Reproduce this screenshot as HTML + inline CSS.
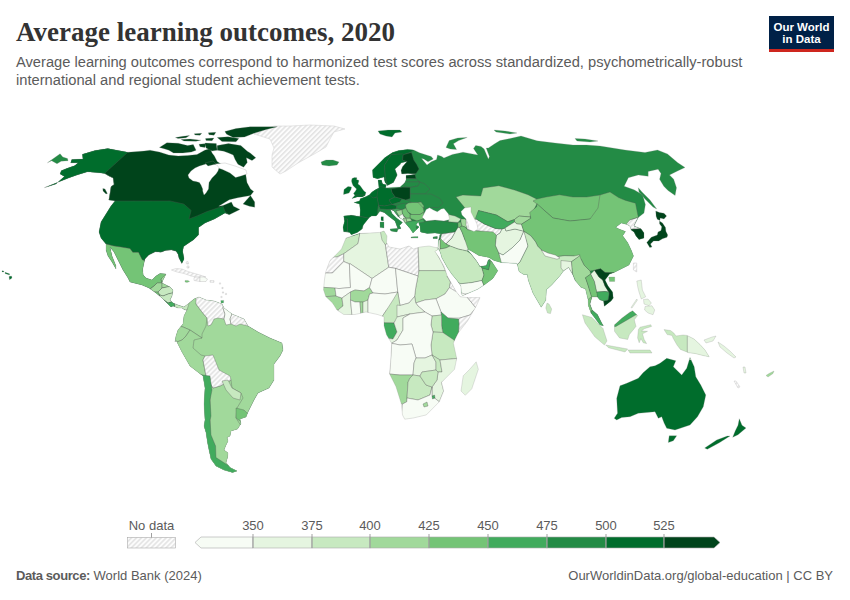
<!DOCTYPE html>
<html><head><meta charset="utf-8">
<style>
html,body{margin:0;padding:0;background:#fff;}
body{width:850px;height:600px;position:relative;overflow:hidden;font-family:"Liberation Sans",sans-serif;}
.t{position:absolute;white-space:nowrap;}
#title{left:16px;top:16px;font-family:"Liberation Serif",serif;font-weight:bold;font-size:27px;color:#333;line-height:32px;}
#sub{left:16px;top:52.5px;font-size:14.7px;color:#5b5b5b;line-height:18.3px;}
#logo{position:absolute;left:769px;top:16px;width:65px;height:33px;background:#002147;border-bottom:3px solid #ce261e;}
#logo div{position:absolute;left:0;width:65px;text-align:center;color:#fff;font-weight:bold;font-size:11.5px;line-height:12px;}
#map{position:absolute;left:0;top:0;}
.lg{position:absolute;font-size:13px;color:#5b5b5b;}
#foot1{left:16px;top:568px;font-size:13px;color:#5b5b5b;}
#foot2{right:17px;top:568px;font-size:13px;color:#5b5b5b;}
</style></head><body>
<div id="title" class="t">Average learning outcomes, 2020</div>
<div id="sub" class="t">Average learning outcomes correspond to harmonized test scores across standardized, psychometrically-robust<br>international and regional student achievement tests.</div>
<div id="logo"><div style="top:5px">Our World</div><div style="top:17px">in Data</div></div>
<svg id="map" width="850" height="600" viewBox="0 0 850 600">
<defs><pattern id="hatch" width="3.5" height="3.5" patternUnits="userSpaceOnUse" patternTransform="rotate(45)"><rect width="3.5" height="3.5" fill="#fcfcfc"/><rect width="1.5" height="3.5" fill="#e2e2e2"/></pattern><clipPath id="land"><path d="M44.2,187.7 L55.9,184 L64.4,176.5 L60.1,173.9 L61.2,170.7 L66.5,168.6 L75,165.4 L78.1,162.8 L70.7,162.8 L71.8,159.6 L82.9,159 L82.4,154.3 L95,150.6 L107.8,148.5 L118.4,150.6 L127.9,152.2 L144,151 L150,150.2 L159.4,152.1 L168.8,155 L178.2,155.9 L187.6,155.4 L197,154.5 L204.6,150.2 L210.2,148.4 L212.1,153 L214.4,155.9 L217.2,161.5 L224,166 L235,170 L245.5,172.7 L247,182.6 L250.5,189 L253.7,191.4 L250.5,195.6 L237.8,197.7 L229.3,199.8 L218.7,206.2 L223,205.5 L231.4,202 L233.5,206.2 L240,209.4 L229.3,214.7 L225,213 L214.5,218.9 L205,223.1 L198.6,227.4 L198.6,234.8 L193.3,240 L190.2,242 L183.6,246.6 L182.7,251.3 L184.1,258.9 L181.8,263.6 L178.9,257.9 L178,254.2 L176.1,251.3 L171.4,249.9 L165.8,250.4 L161,252.3 L155.4,251.8 L148.8,255.1 L145,258.9 L144.1,262.6 L142.7,269.2 L143.2,275 L146,278 L152,280 L156,276 L160,273.6 L166,274 L163,280 L162,283 L170,287 L173,290 L172,296 L170,300 L173,303 L178,305 L184,307 L188,304 L194,299 L199,297 L206,300 L214,301 L222,304 L224,308 L232,314 L244,319 L248,326 L258,332 L270,338 L282,343 L283,350 L280,356 L274,364 L274,380 L269,388 L258,393 L254,400 L248,412 L246,417 L240,419 L241,424 L240,425 L237.5,429 L231,431 L230,436 L227,437.5 L228,441 L226,445 L224,450 L228,453 L227.5,457.5 L226,462.5 L230,467.5 L237,471 L232.5,472.5 L224,470 L216,466 L211,459 L209,450 L207.5,442.5 L206,432.5 L204,426 L205,420 L204,404 L205,388 L203,376 L190,366 L182,352 L176,340 L175,342 L176,336 L178,330 L183,324 L184,316 L187,310 L185,310 L182,308 L178,308 L173,306 L171,307 L167,303 L162,298 L156,293 L149,288 L142,285 L130,282 L128,278 L123,270 L118,260 L114,252 L110,247 L112,256 L116,266 L116,269 L112,262 L108,256 L106,250 L106,244 L101,238 L99,232 L101,222 L106,214 L111,206 L115,201 L108.8,200 L110,193 L111,186.6 L114,184.5 L113,178.1 L108.8,176 L104.6,173.4 L99.3,172.8 L93,172.3 L87.6,171.8 L77,175 L68.6,178.1Z"/><path d="M254,134 L264,130 L274,126 L290,126 L310,125 L334,126 L345,129 L334,132 L330,139 L326,147 L316,153 L298,163 L286,171 L280,174 L272,167 L272,155 L274,148 L270,139Z"/><path d="M378,131 L388,130 L400,130 L402,132 L395,133 L392,137 L386,136 L380,134Z"/><path d="M321,162 L326,160 L333,160 L339,162 L337,165 L329,166 L322,165Z"/><path d="M243,204 L250.5,195.6 L254.7,202 L254.7,207.2 L249.4,206.2Z"/><path d="M343.75,231.75 L343,227.25 L344.5,221.25 L343.75,216 L351.25,215.25 L359.9,216.4 L360.25,210 L359.5,204 L353.9,202.5 L359.5,201 L360.25,198.75 L366.25,196.5 L369.25,195 L372,192 L376,189.5 L379,188 L378.1,180 L381.25,180 L382.5,183.75 L386.25,185 L385.6,188.1 L391,187.5 L400,187 L405,182.5 L406,180 L406,175.5 L415,174.4 L408,173.5 L401.75,174 L401,170.5 L402.5,166.75 L407,161.5 L401,163 L400.25,164.5 L395,169 L397.25,175 L396.5,176.5 L393.5,182.5 L387.5,185.5 L385,182 L384,177 L377.5,178.75 L373,177.5 L372.5,170 L377.5,165 L385,157.5 L392.5,152.5 L398.75,150.6 L407.5,149.4 L413.75,150 L419.5,152.8 L431.2,156.5 L433.3,159.1 L428,161.8 L423.8,159.1 L421.6,158.6 L427,165 L431.2,161.8 L436.5,159.6 L437.5,154.9 L441.8,156.5 L443.9,158.1 L452.4,154.4 L463,152.2 L477.8,154.9 L473.5,148.5 L475.7,145.4 L481,146.4 L484.1,149 L487.3,156.5 L488.4,159.1 L489.4,156.5 L486.2,148 L488.4,148 L494.7,143.8 L500,140.6 L510,138.5 L521,136 L537,140.75 L555,143 L573,145 L586.5,145 L600,146 L625,150 L645,152.5 L657.5,150 L667.5,154 L677.5,162.5 L685,167.5 L678,170.7 L669.5,174.9 L673.7,179.2 L676.5,187.7 L675.1,195.4 L668,190.5 L663.8,186.2 L659.6,179.2 L661,173.5 L658.1,169.2 L648.2,171.4 L648.2,176.3 L638.3,174.9 L628.4,177.7 L624.2,186.2 L634,189.8 L642.6,194.7 L645.4,204.6 L644,213.1 L638.3,217.4 L637.6,218.8 L634,225.9 L641,228.7 L644,233 L644,238 L639,239.5 L636,236 L634,232 L631.2,230.1 L629.8,225.9 L627,224.5 L621.3,223 L615.7,227.3 L619,229 L625.5,231.5 L622.7,235.8 L627.75,242.75 L631.2,250 L633.5,256 L629,265 L620,269.5 L614,272.5 L609.5,274 L605,280 L608,286 L612.5,292 L613.25,298 L611,301 L604.25,306.25 L603.5,301 L600,300 L597.5,297 L592,297 L590,304 L592.25,310 L597.5,314.5 L602,323.5 L603.5,325.75 L600,325 L595.25,318.5 L591,313 L588.5,306 L588,299.5 L585.5,289 L580.9,287.3 L575,280.3 L572.7,274.5 L568.6,267.5 L563.4,271 L560,275.7 L551.7,285 L546.4,289.7 L545.8,300.2 L541.2,307.2 L533,293.2 L528.3,280.3 L527.2,274.5 L523.7,274.5 L519,271.6 L517.8,266.3 L516.75,263.4 L501,262.5 L494,260.5 L489,257.5 L484,256.5 L478.8,255.5 L470.1,250.2 L467,249.5 L471.2,254 L476.6,261 L479.9,266.4 L486.4,265.4 L488,260.5 L489.5,259 L492,262 L497.75,270.8 L492.9,278.4 L484.2,284.9 L477.7,289.2 L462.5,295.7 L461.4,293.5 L460.9,286 L457.1,280.5 L451.7,274 L447.3,267.5 L441.9,257.8 L440.3,252.3 L438,248 L438.5,240.5 L440,234.5 L441.8,234.1 L435,233 L427.3,233.5 L420.6,231.9 L420,226.3 L418.25,221.75 L416,225 L419,227 L416,230 L413,233 L410,228.5 L406.25,224 L402.5,219.5 L398,216.5 L393.5,210.5 L390.5,209.75 L392,213.5 L396.5,218 L402.5,222.5 L399.5,225.5 L401,228.5 L398,229.25 L395,221 L389,216.5 L384.5,212.75 L380,211.25 L377.5,214.5 L376,216 L371.5,216 L369.25,217.5 L363.25,225 L362.5,228.75 L357.25,232.5 L351.25,234.75 L349.75,232.5Z"/><path d="M352,178.5 L354.5,177.5 L357,177.75 L356.5,179.5 L359,180.5 L358,184 L360,185.5 L362.5,189 L364,191 L366,192.5 L365,195.5 L362,197 L357,197 L352,198.5 L355,195.5 L353.5,193.5 L355.5,191 L356.5,189 L354.5,187 L353,185.5 L352,183 L351.5,181Z"/><path d="M344,189.5 L348,186.5 L351.5,187 L351,189.5 L349,193 L343.5,194.5Z"/><path d="M390,229 L398,228.5 L397,232 L391,231Z"/><path d="M380,222 L384,222 L384,228 L380,227.5Z"/><path d="M381,216.8 L383.4,216.8 L383.4,221 L381,220.5Z"/><path d="M411,237 L418,236.5 L418,238 L411,238Z"/><path d="M433,237 L437.3,236.5 L437.3,238.6 L433,238.6Z"/><path d="M446,147.5 L449.2,140.6 L457.7,138 L467.2,137.4 L458.7,140.6 L453.4,143.8 L456.6,149.6 L450.2,149Z"/><path d="M494,130 L505,131 L517,133 L510,134 L496,132Z"/><path d="M575,138.5 L585,139 L598,141 L590,142 L577,141Z"/><path d="M638.3,187.7 L642,192 L650,200 L656.7,208.9 L653,207 L645,199 L639,192Z"/><path d="M659.5,221.1 L662.5,223 L665.5,227.5 L665.9,231.25 L667.75,235 L667,237.25 L662.5,238.75 L658.75,241 L653.5,241 L650.5,244 L652,247 L649.75,247.4 L646.75,242.5 L651.25,237.25 L657.25,235 L658,232 L661,230.5 L661.75,226.75 L659.5,223.75Z"/><path d="M655.75,211 L659.5,212.5 L664,213.25 L666.6,215.9 L664,218.9 L660.25,218.1 L659.9,220.4 L657.25,219.25 L656.1,216.25Z"/><path d="M346,238 L359.5,233.5 L370,233 L380,232.4 L384,231 L387,236 L386.5,242.5 L389,247 L400,249 L409,246 L413.5,249 L420,247 L429,246 L438,248 L437.5,250 L434.9,251.3 L439.2,257.8 L444.1,266.4 L447.3,276.2 L451.7,283.8 L456,291.4 L460.3,296.8 L467.5,297.6 L480,297.6 L476.5,305.5 L467.5,321 L458.5,332.5 L454,341.5 L453.4,343.3 L456.7,358.5 L454.5,369.3 L441.5,382.3 L443.7,391 L439.3,401.8 L426.3,414.9 L413.3,418 L404.7,419.2 L402.5,414.9 L401.4,404 L396,386.7 L389.5,373.7 L390.6,362.8 L391.7,343.3 L386.5,334.75 L384,325.75 L384,316.75 L377.5,314.5 L366,312 L355,314.5 L343.75,314.5 L337,310 L332.5,303 L325.75,296.5 L323.5,289.75 L324.6,278.5 L325.75,271.75 L330,260.5 L334.75,256 L341.5,249Z"/><path d="M614.2,418.3 L617.5,413.3 L616.7,398.3 L620,385.8 L626.7,383.3 L638.3,378.3 L643.3,372.5 L650,366.7 L655,365.8 L660,363.3 L666.7,358.3 L675.8,360.8 L673.3,366.7 L681.7,375 L686.7,368.3 L690,357.5 L694.2,366.7 L695.8,376.7 L700.8,385 L705.8,395 L703.3,406.7 L697.5,416.7 L690,425 L675,430 L666.7,428.3 L664.2,423.3 L661.7,416.7 L658.3,418.3 L655,411.7 L646.7,412.5 L638.3,413.3 L630,416.7 L621.7,417.5 L616.7,420Z"/><path d="M669.2,435.8 L676.7,435.8 L673.3,440.8 L668.3,442.5Z"/><path d="M739.3,418.7 L742,425.3 L746,428 L738,434.7 L732.7,437.3 L735.3,430.7 L738,425.3Z"/><path d="M730,436 L719.3,442.7 L707.3,449.3 L704.7,448 L716.7,440 L727.3,436Z"/><path d="M605.75,345 L627.75,349 L625,352 L608.5,347.75Z"/><path d="M628,350 L650,350 L652,353 L630,353Z"/><path d="M614.5,324.7 L622,318 L629.4,312.4 L632.6,310.7 L637.6,315.6 L634.3,319.8 L636,326.4 L629.4,334.6 L627.7,339.5 L619.5,337.9 L614.5,331.3Z"/><path d="M638.4,329.6 L640,327.2 L650.8,324.7 L651.6,326.4 L644.2,328.8 L641.5,331 L647.5,331.3 L642.5,333.8 L644.2,339.5 L646.6,343.6 L643.3,342.8 L640.9,338.7 L639.2,342.8 L637.6,337.9Z"/><path d="M664,329.6 L670.5,330.5 L673.8,333 L676,336 L683,335 L687,335.4 L694,339 L700,344.5 L705,350 L709.2,356.8 L703,355.5 L695,353.5 L688.6,352.7 L680.4,349.4 L677,345 L673,338 L672,335.4 L667.2,334.6Z"/><path d="M636.75,281 L641.25,280 L642.4,290 L645.75,296.75 L641.25,299 L639,292 L637.9,287.75Z"/></clipPath></defs>
<path d="M44.2,187.7 L55.9,184 L64.4,176.5 L60.1,173.9 L61.2,170.7 L66.5,168.6 L75,165.4 L78.1,162.8 L70.7,162.8 L71.8,159.6 L82.9,159 L82.4,154.3 L95,150.6 L107.8,148.5 L118.4,150.6 L127.9,152.2 L144,151 L150,150.2 L159.4,152.1 L168.8,155 L178.2,155.9 L187.6,155.4 L197,154.5 L204.6,150.2 L210.2,148.4 L212.1,153 L214.4,155.9 L217.2,161.5 L224,166 L235,170 L245.5,172.7 L247,182.6 L250.5,189 L253.7,191.4 L250.5,195.6 L237.8,197.7 L229.3,199.8 L218.7,206.2 L223,205.5 L231.4,202 L233.5,206.2 L240,209.4 L229.3,214.7 L225,213 L214.5,218.9 L205,223.1 L198.6,227.4 L198.6,234.8 L193.3,240 L190.2,242 L183.6,246.6 L182.7,251.3 L184.1,258.9 L181.8,263.6 L178.9,257.9 L178,254.2 L176.1,251.3 L171.4,249.9 L165.8,250.4 L161,252.3 L155.4,251.8 L148.8,255.1 L145,258.9 L144.1,262.6 L142.7,269.2 L143.2,275 L146,278 L152,280 L156,276 L160,273.6 L166,274 L163,280 L162,283 L170,287 L173,290 L172,296 L170,300 L173,303 L178,305 L184,307 L188,304 L194,299 L199,297 L206,300 L214,301 L222,304 L224,308 L232,314 L244,319 L248,326 L258,332 L270,338 L282,343 L283,350 L280,356 L274,364 L274,380 L269,388 L258,393 L254,400 L248,412 L246,417 L240,419 L241,424 L240,425 L237.5,429 L231,431 L230,436 L227,437.5 L228,441 L226,445 L224,450 L228,453 L227.5,457.5 L226,462.5 L230,467.5 L237,471 L232.5,472.5 L224,470 L216,466 L211,459 L209,450 L207.5,442.5 L206,432.5 L204,426 L205,420 L204,404 L205,388 L203,376 L190,366 L182,352 L176,340 L175,342 L176,336 L178,330 L183,324 L184,316 L187,310 L185,310 L182,308 L178,308 L173,306 L171,307 L167,303 L162,298 L156,293 L149,288 L142,285 L130,282 L128,278 L123,270 L118,260 L114,252 L110,247 L112,256 L116,266 L116,269 L112,262 L108,256 L106,250 L106,244 L101,238 L99,232 L101,222 L106,214 L111,206 L115,201 L108.8,200 L110,193 L111,186.6 L114,184.5 L113,178.1 L108.8,176 L104.6,173.4 L99.3,172.8 L93,172.3 L87.6,171.8 L77,175 L68.6,178.1Z" fill="#00441b"/>
<path d="M254,134 L264,130 L274,126 L290,126 L310,125 L334,126 L345,129 L334,132 L330,139 L326,147 L316,153 L298,163 L286,171 L280,174 L272,167 L272,155 L274,148 L270,139Z" fill="url(#hatch)" stroke="#cfcfcf" stroke-width="0.5"/>
<path d="M378,131 L388,130 L400,130 L402,132 L395,133 L392,137 L386,136 L380,134Z" fill="#006d2c"/>
<path d="M321,162 L326,160 L333,160 L339,162 L337,165 L329,166 L322,165Z" fill="#238b45"/>
<path d="M243,204 L250.5,195.6 L254.7,202 L254.7,207.2 L249.4,206.2Z" fill="#00441b"/>
<path d="M343.75,231.75 L343,227.25 L344.5,221.25 L343.75,216 L351.25,215.25 L359.9,216.4 L360.25,210 L359.5,204 L353.9,202.5 L359.5,201 L360.25,198.75 L366.25,196.5 L369.25,195 L372,192 L376,189.5 L379,188 L378.1,180 L381.25,180 L382.5,183.75 L386.25,185 L385.6,188.1 L391,187.5 L400,187 L405,182.5 L406,180 L406,175.5 L415,174.4 L408,173.5 L401.75,174 L401,170.5 L402.5,166.75 L407,161.5 L401,163 L400.25,164.5 L395,169 L397.25,175 L396.5,176.5 L393.5,182.5 L387.5,185.5 L385,182 L384,177 L377.5,178.75 L373,177.5 L372.5,170 L377.5,165 L385,157.5 L392.5,152.5 L398.75,150.6 L407.5,149.4 L413.75,150 L419.5,152.8 L431.2,156.5 L433.3,159.1 L428,161.8 L423.8,159.1 L421.6,158.6 L427,165 L431.2,161.8 L436.5,159.6 L437.5,154.9 L441.8,156.5 L443.9,158.1 L452.4,154.4 L463,152.2 L477.8,154.9 L473.5,148.5 L475.7,145.4 L481,146.4 L484.1,149 L487.3,156.5 L488.4,159.1 L489.4,156.5 L486.2,148 L488.4,148 L494.7,143.8 L500,140.6 L510,138.5 L521,136 L537,140.75 L555,143 L573,145 L586.5,145 L600,146 L625,150 L645,152.5 L657.5,150 L667.5,154 L677.5,162.5 L685,167.5 L678,170.7 L669.5,174.9 L673.7,179.2 L676.5,187.7 L675.1,195.4 L668,190.5 L663.8,186.2 L659.6,179.2 L661,173.5 L658.1,169.2 L648.2,171.4 L648.2,176.3 L638.3,174.9 L628.4,177.7 L624.2,186.2 L634,189.8 L642.6,194.7 L645.4,204.6 L644,213.1 L638.3,217.4 L637.6,218.8 L634,225.9 L641,228.7 L644,233 L644,238 L639,239.5 L636,236 L634,232 L631.2,230.1 L629.8,225.9 L627,224.5 L621.3,223 L615.7,227.3 L619,229 L625.5,231.5 L622.7,235.8 L627.75,242.75 L631.2,250 L633.5,256 L629,265 L620,269.5 L614,272.5 L609.5,274 L605,280 L608,286 L612.5,292 L613.25,298 L611,301 L604.25,306.25 L603.5,301 L600,300 L597.5,297 L592,297 L590,304 L592.25,310 L597.5,314.5 L602,323.5 L603.5,325.75 L600,325 L595.25,318.5 L591,313 L588.5,306 L588,299.5 L585.5,289 L580.9,287.3 L575,280.3 L572.7,274.5 L568.6,267.5 L563.4,271 L560,275.7 L551.7,285 L546.4,289.7 L545.8,300.2 L541.2,307.2 L533,293.2 L528.3,280.3 L527.2,274.5 L523.7,274.5 L519,271.6 L517.8,266.3 L516.75,263.4 L501,262.5 L494,260.5 L489,257.5 L484,256.5 L478.8,255.5 L470.1,250.2 L467,249.5 L471.2,254 L476.6,261 L479.9,266.4 L486.4,265.4 L488,260.5 L489.5,259 L492,262 L497.75,270.8 L492.9,278.4 L484.2,284.9 L477.7,289.2 L462.5,295.7 L461.4,293.5 L460.9,286 L457.1,280.5 L451.7,274 L447.3,267.5 L441.9,257.8 L440.3,252.3 L438,248 L438.5,240.5 L440,234.5 L441.8,234.1 L435,233 L427.3,233.5 L420.6,231.9 L420,226.3 L418.25,221.75 L416,225 L419,227 L416,230 L413,233 L410,228.5 L406.25,224 L402.5,219.5 L398,216.5 L393.5,210.5 L390.5,209.75 L392,213.5 L396.5,218 L402.5,222.5 L399.5,225.5 L401,228.5 L398,229.25 L395,221 L389,216.5 L384.5,212.75 L380,211.25 L377.5,214.5 L376,216 L371.5,216 L369.25,217.5 L363.25,225 L362.5,228.75 L357.25,232.5 L351.25,234.75 L349.75,232.5Z" fill="#238b45"/>
<path d="M352,178.5 L354.5,177.5 L357,177.75 L356.5,179.5 L359,180.5 L358,184 L360,185.5 L362.5,189 L364,191 L366,192.5 L365,195.5 L362,197 L357,197 L352,198.5 L355,195.5 L353.5,193.5 L355.5,191 L356.5,189 L354.5,187 L353,185.5 L352,183 L351.5,181Z" fill="#006d2c"/>
<path d="M344,189.5 L348,186.5 L351.5,187 L351,189.5 L349,193 L343.5,194.5Z" fill="#006d2c"/>
<path d="M390,229 L398,228.5 L397,232 L391,231Z" fill="#238b45"/>
<path d="M380,222 L384,222 L384,228 L380,227.5Z" fill="#238b45"/>
<path d="M381,216.8 L383.4,216.8 L383.4,221 L381,220.5Z" fill="#006d2c"/>
<path d="M411,237 L418,236.5 L418,238 L411,238Z" fill="#41ab5d"/>
<path d="M433,237 L437.3,236.5 L437.3,238.6 L433,238.6Z" fill="#238b45"/>
<path d="M446,147.5 L449.2,140.6 L457.7,138 L467.2,137.4 L458.7,140.6 L453.4,143.8 L456.6,149.6 L450.2,149Z" fill="#238b45"/>
<path d="M494,130 L505,131 L517,133 L510,134 L496,132Z" fill="#238b45"/>
<path d="M575,138.5 L585,139 L598,141 L590,142 L577,141Z" fill="#238b45"/>
<path d="M638.3,187.7 L642,192 L650,200 L656.7,208.9 L653,207 L645,199 L639,192Z" fill="#238b45"/>
<path d="M659.5,221.1 L662.5,223 L665.5,227.5 L665.9,231.25 L667.75,235 L667,237.25 L662.5,238.75 L658.75,241 L653.5,241 L650.5,244 L652,247 L649.75,247.4 L646.75,242.5 L651.25,237.25 L657.25,235 L658,232 L661,230.5 L661.75,226.75 L659.5,223.75Z" fill="#00441b"/>
<path d="M655.75,211 L659.5,212.5 L664,213.25 L666.6,215.9 L664,218.9 L660.25,218.1 L659.9,220.4 L657.25,219.25 L656.1,216.25Z" fill="#00441b"/>
<path d="M346,238 L359.5,233.5 L370,233 L380,232.4 L384,231 L387,236 L386.5,242.5 L389,247 L400,249 L409,246 L413.5,249 L420,247 L429,246 L438,248 L437.5,250 L434.9,251.3 L439.2,257.8 L444.1,266.4 L447.3,276.2 L451.7,283.8 L456,291.4 L460.3,296.8 L467.5,297.6 L480,297.6 L476.5,305.5 L467.5,321 L458.5,332.5 L454,341.5 L453.4,343.3 L456.7,358.5 L454.5,369.3 L441.5,382.3 L443.7,391 L439.3,401.8 L426.3,414.9 L413.3,418 L404.7,419.2 L402.5,414.9 L401.4,404 L396,386.7 L389.5,373.7 L390.6,362.8 L391.7,343.3 L386.5,334.75 L384,325.75 L384,316.75 L377.5,314.5 L366,312 L355,314.5 L343.75,314.5 L337,310 L332.5,303 L325.75,296.5 L323.5,289.75 L324.6,278.5 L325.75,271.75 L330,260.5 L334.75,256 L341.5,249Z" fill="#f7fcf5"/>
<path d="M614.2,418.3 L617.5,413.3 L616.7,398.3 L620,385.8 L626.7,383.3 L638.3,378.3 L643.3,372.5 L650,366.7 L655,365.8 L660,363.3 L666.7,358.3 L675.8,360.8 L673.3,366.7 L681.7,375 L686.7,368.3 L690,357.5 L694.2,366.7 L695.8,376.7 L700.8,385 L705.8,395 L703.3,406.7 L697.5,416.7 L690,425 L675,430 L666.7,428.3 L664.2,423.3 L661.7,416.7 L658.3,418.3 L655,411.7 L646.7,412.5 L638.3,413.3 L630,416.7 L621.7,417.5 L616.7,420Z" fill="#006d2c"/>
<path d="M669.2,435.8 L676.7,435.8 L673.3,440.8 L668.3,442.5Z" fill="#006d2c"/>
<path d="M739.3,418.7 L742,425.3 L746,428 L738,434.7 L732.7,437.3 L735.3,430.7 L738,425.3Z" fill="#006d2c"/>
<path d="M730,436 L719.3,442.7 L707.3,449.3 L704.7,448 L716.7,440 L727.3,436Z" fill="#006d2c"/>
<path d="M605.75,345 L627.75,349 L625,352 L608.5,347.75Z" fill="#c7e9c0"/>
<path d="M628,350 L650,350 L652,353 L630,353Z" fill="#c7e9c0"/>
<path d="M614.5,324.7 L622,318 L629.4,312.4 L632.6,310.7 L637.6,315.6 L634.3,319.8 L636,326.4 L629.4,334.6 L627.7,339.5 L619.5,337.9 L614.5,331.3Z" fill="#c7e9c0"/>
<path d="M638.4,329.6 L640,327.2 L650.8,324.7 L651.6,326.4 L644.2,328.8 L641.5,331 L647.5,331.3 L642.5,333.8 L644.2,339.5 L646.6,343.6 L643.3,342.8 L640.9,338.7 L639.2,342.8 L637.6,337.9Z" fill="#c7e9c0"/>
<path d="M664,329.6 L670.5,330.5 L673.8,333 L676,336 L683,335 L687,335.4 L694,339 L700,344.5 L705,350 L709.2,356.8 L703,355.5 L695,353.5 L688.6,352.7 L680.4,349.4 L677,345 L673,338 L672,335.4 L667.2,334.6Z" fill="#c7e9c0"/>
<path d="M636.75,281 L641.25,280 L642.4,290 L645.75,296.75 L641.25,299 L639,292 L637.9,287.75Z" fill="#e5f5e0"/>
<g clip-path="url(#land)" stroke="#555" stroke-width="0.45" stroke-opacity="0.75" stroke-linejoin="round">
<path d="M30,140 L128,140 L127.9,152.2 L104.6,173.4 L108.8,176 L113,178.1 L114,184.5 L111,186.6 L110,193 L108.8,200 L100,205 L30,205Z" fill="#006d2c"/>
<path d="M95,201 L115,201 L170,200.9 L183.8,204 L191.2,210.4 L189,218.9 L197.5,215.7 L207,211.5 L219.8,207.2 L223,206.2 L225,211.5 L230,216 L240,230 L200,270 L181.8,263.6 L178.9,257.9 L178,254.2 L176.1,251.3 L171.4,249.9 L165.8,250.4 L161,252.3 L155.4,251.8 L148.8,255.1 L145,258.9 L145,260.8 L142.2,259.8 L138.5,252.3 L132.8,252.3 L130,248.5 L121,247 L114,246 L106,244 L90,244Z" fill="#006d2c"/>
<path d="M90,244 L106,244 L114,246 L121,247 L130,248.5 L132.8,252.3 L138.5,252.3 L142.2,259.8 L145,260.8 L150,268 L170,268 L170,278 L166,277 L161,279 L162,283 L157,283 L154,286 L150,289 L140,300 L90,300Z" fill="#74c476"/>
<path d="M195,296 L300,296 L300,480 L170,480 L170,318 L187,310Z" fill="#a1d99b"/>
<path d="M175,292 L199,297 L196,304 L202,312 L207,318 L206,326 L202,334 L202,338 L196,334 L190,330 L183,327 L176,325 L170,310 L187,310Z" fill="#a1d99b"/>
<path d="M196,290 L230,290 L223,308 L225,314 L224,319 L218,318 L214,319 L211,325 L208,326 L207,318 L202,312 L196,304Z" fill="url(#hatch)"/>
<path d="M223,300 L232,300 L232,314 L230,319 L231,324 L226,325 L224,319 L225,314 L223,308Z" fill="#f7fcf5"/>
<path d="M232,300 L250,300 L248,326 L240,324 L236,326 L231,324 L230,319 L232,314Z" fill="url(#hatch)"/>
<path d="M165,320 L178,326 L183,327 L190,330 L186,336 L182,340 L177,342 L165,342Z" fill="#a1d99b"/>
<path d="M160,338 L177,342 L182,340 L186,336 L190,330 L196,334 L202,338 L194,340 L193,348 L201,355 L205,356 L203,360 L206,376 L203,378 L195,380 L160,375Z" fill="#a1d99b"/>
<path d="M206,376 L213,388 L220,386 L231,380 L232,388 L241,393 L243,398 L237,408 L236,418 L250,440 L240,480 L210,480 L210,376Z" fill="#a1d99b"/>
<path d="M205,356 L213,355 L219,370 L230,376 L231,380 L220,386 L213,388 L206,376 L203,360Z" fill="url(#hatch)"/>
<path d="M222,381 L228,380 L232,388 L241,393 L240,400 L233,398 L226,390Z" fill="#c7e9c0"/>
<path d="M236,408 L244,410 L252,418 L244,424 L236,418Z" fill="#74c476"/>
<path d="M185,370 L203,375 L210,376 L212,390 L210,400 L211,416 L210,420 L211,435 L215.6,446 L216,457.5 L226,464 L240,472 L230,480 L195,480 L185,420Z" fill="#41ab5d"/>
<path d="M150,289 L154,286 L157,283 L162,283 L162,288 L158,292 L152,292Z" fill="#a1d99b"/>
<path d="M161,279 L166,274 L172,280 L172,286 L162,288 L162,283Z" fill="#a1d99b"/>
<path d="M152,292 L158,292 L160,295 L154,296Z" fill="#74c476"/>
<path d="M158,292 L162,288 L172,286 L176,292 L168,294 L163,296 L160,295Z" fill="#c7e9c0"/>
<path d="M160,295 L163,296 L168,294 L176,292 L174,301 L168,303 L164,300 L158,298Z" fill="#c7e9c0"/>
<path d="M164,300 L168,303 L174,301 L175,306 L172,309 L166,306Z" fill="#41ab5d"/>
<path d="M172,309 L175,306 L174,301 L190,300 L187,310 L180,310Z" fill="#c7e9c0"/>
<path d="M376,179 L387,179 L387,188.5 L376,188.5Z" fill="#006d2c"/>
<path d="M368,140 L413.75,140 L413.75,150 L411,152 L403.25,154.75 L391.25,154.75 L384.5,165.25 L385.25,176.5 L387.5,185.5 L377,181 L368,175Z" fill="#006d2c"/>
<path d="M387.5,185.5 L385.25,176.5 L384.5,165.25 L391.25,154.75 L402.5,153.75 L403.25,154.75 L402.5,160 L407,161.5 L401,163 L395,169 L397.25,175 L396.5,176.5 L393.5,182.5Z" fill="#006d2c"/>
<path d="M403.25,154.75 L411.5,152.5 L413.75,160 L416.75,164.5 L419,169 L416,173.5 L408,173.5 L401.75,174 L401,170.5 L402.5,166.75 L407,161.5 L402.5,160Z" fill="#00441b"/>
<path d="M404,174 L415,174.4 L416,178.75 L404,178.5Z" fill="#00441b"/>
<path d="M404,178.5 L416,178.75 L420,182 L404,182Z" fill="#238b45"/>
<path d="M404,182 L420,182 L418,186 L410,187.5 L404,186Z" fill="#238b45"/>
<path d="M410,187.5 L418,186 L420,182 L425,184 L430,189 L425,194 L419,194 L410,194Z" fill="#238b45"/>
<path d="M410,194 L419,194 L425,194 L431,194 L440,198.5 L443,203 L438.5,207.5 L431,207.5 L426.5,209 L422,207.5 L419,204.5 L410,202 L407,201.5 L410,198.5Z" fill="#238b45"/>
<path d="M391,188.75 L402.5,187.25 L410,187.5 L410,194 L410,198.5 L405.5,200 L395,197 L392,192.5Z" fill="#00441b"/>
<path d="M372,189.5 L380,186.5 L391,188.75 L392,192.5 L395,197 L389,200 L392,204.5 L384.5,206 L378.5,205.25 L377,197Z" fill="#006d2c"/>
<path d="M366,195 L371,189 L378,189 L377,197 L373,198.5 L369.5,197Z" fill="#006d2c"/>
<path d="M350,195 L369.5,195 L373,198 L377,197 L378.5,205.25 L377.75,210.5 L377.5,214.5 L376,218 L369.25,218.25 L359.9,216.4 L350,216Z" fill="#006d2c"/>
<path d="M340,214 L359.9,216.4 L369.25,218.25 L375,222 L362.75,226 L359,236 L351.5,236 L347.5,231 L347.5,219 L340,219Z" fill="#006d2c"/>
<path d="M340,219 L347.5,219 L347.5,231 L340,233Z" fill="#006d2c"/>
<path d="M389,200 L395,197 L402,199 L400,202 L392,204.5Z" fill="#006d2c"/>
<path d="M378.5,205.25 L384.5,206 L392,204.5 L397,205.5 L396,209 L387,209.5 L380,209Z" fill="#006d2c"/>
<path d="M377.75,210.5 L378.5,205.25 L380,209 L387,209.5 L391,209.5 L393.5,210.5 L398,216.5 L402.5,219.5 L410,226 L400,236 L388,236 L384.5,212.75 L380,211.25Z" fill="#238b45"/>
<path d="M400,202 L402,199 L405.5,200 L410,201 L411,205.5 L402,204 L396,205.5 L392,204.5Z" fill="#238b45"/>
<path d="M396,205.5 L402,203.5 L408.3,203 L405.5,205 L406,208 L402,209.8 L397,208.8Z" fill="#238b45"/>
<path d="M391,209.5 L396,209 L398,210 L393.5,210.5Z" fill="#006d2c"/>
<path d="M391,209.5 L397,208.8 L402,209.8 L396,211 L399,216 L396,214 L393.5,210.5Z" fill="#41ab5d"/>
<path d="M396,211 L402,209.8 L402.6,214 L403.6,216.3 L399,216Z" fill="#a1d99b"/>
<path d="M402,209.8 L406,208 L408,212 L410.2,214.5 L410.2,218.2 L406,218.2 L402.6,214Z" fill="#74c476"/>
<path d="M399,216 L402.6,214 L403.6,216.3 L406,218.2 L403.6,218 L404.5,223 L400,220Z" fill="#f7fcf5"/>
<path d="M403.6,218 L406,218.2 L407,222 L406.4,224 L404.5,223Z" fill="#a1d99b"/>
<path d="M406,218.2 L410.2,218.2 L412,221 L407,222Z" fill="#a1d99b"/>
<path d="M405.5,205 L408.3,203 L412,202.5 L418,202.5 L421,202 L423.3,208 L424,212 L420,214.5 L412,214.5 L408,212 L406,208Z" fill="#74c476"/>
<path d="M418,202.5 L421,202 L424,206 L423.3,208Z" fill="#74c476"/>
<path d="M410.2,214.5 L412,214.5 L420,214.5 L424,212 L423,219 L417,221 L410.2,218.2Z" fill="#74c476"/>
<path d="M404.5,223 L407,222 L412,221 L417,221 L423,219 L430,232 L410,238 L400,230Z" fill="#41ab5d"/>
<path d="M419,222.9 L435,220 L448.5,221.8 L458,222.4 L458,227.4 L455.2,231.9 L448.5,233 L441.8,234.1 L435,240 L420,240 L416,227Z" fill="#238b45"/>
<path d="M448.5,214.5 L455,216 L461,219 L458,222.4 L448.5,221.8Z" fill="#c7e9c0"/>
<path d="M458,222.4 L461,222 L462,226 L459.7,227.4 L458,227.4Z" fill="#74c476"/>
<path d="M461,219 L465,219 L470,223 L469,229 L465,227 L462,226 L461,222Z" fill="#a1d99b"/>
<path d="M441.8,234.1 L448.5,233 L455.2,231.9 L452,238 L446,244 L440,240Z" fill="url(#hatch)"/>
<path d="M446,244 L452,238 L455.2,231.9 L458,227.4 L459.7,227.4 L462,232 L465,240 L471.75,248.75 L467,251 L458,249 L450,246Z" fill="#e5f5e0"/>
<path d="M436,238 L440,238 L440,249 L437,248Z" fill="#238b45"/>
<path d="M440,238 L446,244 L450,246 L446,248 L440,249Z" fill="#74c476"/>
<path d="M430,249 L440,249 L446,248 L450,246 L458,249 L467,251 L471.2,254 L476.6,261 L477.7,262 L482,268 L484,275 L482,280.5 L471.2,282.7 L460.3,283.8 L456,281 L449.25,273.5 L442.5,260 L435,255Z" fill="#c7e9c0"/>
<path d="M456,281 L460.3,283.8 L471.2,282.7 L482,280.5 L484.2,286 L477.7,292 L462.5,297 L455,295Z" fill="#f7fcf5"/>
<path d="M482,268 L488.5,269.7 L490,263 L489.5,259 L492,262 L500,271 L494,282 L484.2,286 L482,280.5 L484,275Z" fill="#74c476"/>
<path d="M477.7,262 L479.9,266.4 L486.4,265.4 L488,260.5 L489.5,259 L490,263 L488.5,269.7 L482,268Z" fill="#41ab5d"/>
<path d="M459.7,227.4 L462,226 L465,227 L467.5,229.6 L477.6,230.75 L493.2,230.75 L496.5,235.2 L495.4,245.3 L498.8,253 L502,262 L502,264 L494,263 L488,259.5 L484,258.5 L478,258 L469,252 L465,240 L462,232Z" fill="#74c476"/>
<path d="M466,219 L475.3,218.4 L484.3,224 L495.4,228.5 L502,229 L500,233 L496.5,235.2 L493.2,231.9 L477.6,230.75 L467.5,229.6 L466,225Z" fill="url(#hatch)"/>
<path d="M496.5,235.2 L500,233 L502,229 L505,228 L506,231 L515,229 L523.8,231.2 L520,240 L512,248 L503,255 L498.8,253 L495.4,245.3Z" fill="#e5f5e0"/>
<path d="M498.8,253 L503,255 L512,248 L520,240 L523.8,231.2 L525,233.5 L528,246 L520,262 L516.75,265 L502,265Z" fill="#f7fcf5"/>
<path d="M456,197 L462.75,195 L480.75,196 L483,188 L498.75,185.75 L514.5,190 L528,194.75 L537,199.25 L537,203.75 L530,217 L519,216 L514.5,219.5 L507.75,221.75 L496.5,215 L478.5,210.5 L476,219.5 L468,217 L465,208Z" fill="#a1d99b"/>
<path d="M478.5,210.5 L496.5,215 L507.75,221.75 L514.5,219.5 L514.5,222 L505,228 L502,229 L495.4,228.5 L484.3,224 L475.3,218.4Z" fill="#41ab5d"/>
<path d="M514.5,219.5 L519,216 L530,217 L530.8,218.3 L521.5,224.2 L517,224 L514.5,222Z" fill="#a1d99b"/>
<path d="M505,228 L514.5,222 L517,224 L521.5,224.2 L523.8,231.2 L515,229 L506,231Z" fill="#e5f5e0"/>
<path d="M533,201 L537,199 L546,197 L559.5,194.75 L573,197 L586.5,197 L600,195 L606,199 L604,208 L598,214 L590,219 L570,221 L553,218 L545,211 L537,204Z" fill="#74c476"/>
<path d="M537,203.75 L545,211 L553,218 L570,221 L590,219 L598,208 L600,195 L610,191.9 L618.5,197.6 L625.6,200.4 L635.5,203.2 L636.9,210.3 L638.3,217.4 L629.8,220 L629.8,225.9 L625,232 L640,245 L640,265 L614,275 L609.5,274 L605,272.5 L600.5,268.75 L594.5,270.25 L590,271 L584,265 L581,259 L574,256 L564.7,255.7 L555.3,256.8 L542.5,251 L537.8,246.3 L535.5,241.7 L530.8,235.8 L523.8,231.2 L521.5,224.2 L530.8,218.3 L529.7,212.5 L536.7,206.7Z" fill="#74c476"/>
<path d="M626,224.5 L629.8,220 L638.3,217.4 L637.6,218.8 L634,225.9 L641,228.7 L628,229.4Z" fill="url(#hatch)"/>
<path d="M628,229.4 L641,228.7 L646,233 L646,240 L628,240Z" fill="#00441b"/>
<path d="M516.75,265 L520,262 L528,246 L523.8,231.2 L530.8,235.8 L535.5,241.7 L537.8,246.3 L542.5,251 L555.3,256.8 L564.7,255.7 L574,256 L579.7,254.7 L579.7,256 L571.5,261.7 L572.7,274.5 L570,276 L563.4,271 L566,285 L552,305 L541.5,312 L530,300 L520,280 L510,268Z" fill="#c7e9c0"/>
<path d="M541.3,250 L548,253 L555.3,255 L560,258 L557,259.2 L545,256Z" fill="#f7fcf5"/>
<path d="M561,260.5 L566,261 L571.5,261.7 L572.7,274.5 L568.6,267.5 L563.4,271 L561,268Z" fill="#e5f5e0"/>
<path d="M571.5,261.7 L579.7,255.8 L581,259 L584,265 L590,271 L590.75,274 L585.5,277.75 L588,285 L591.5,296.5 L590,304 L591.5,310 L580,310 L575,280.3 L572.7,274.5Z" fill="#a1d99b"/>
<path d="M585.5,277.75 L590.75,274 L594.5,281.5 L596.75,292 L597.5,293.5 L597.5,297 L592,297 L590,304 L592.25,310 L591,313 L580,313 L588,299.5 L591.5,296.5 L588,285Z" fill="#74c476"/>
<path d="M590.75,274 L594.5,270.25 L599,277 L602.75,280 L605,286 L608.75,292 L605,291.5 L596.75,292 L594.5,281.5Z" fill="#e5f5e0"/>
<path d="M594.5,270.25 L600.5,268.75 L605,272.5 L614,272.5 L620,285 L620,310 L604.25,306.25 L603.5,301 L608,300 L609,294 L608.75,292 L605,286 L602.75,280 L599,277Z" fill="#00441b"/>
<path d="M596.75,292 L605,291.5 L608.75,292 L609,294 L608,300 L603.5,301 L598,299 L597.5,297Z" fill="#41ab5d"/>
<path d="M591,313 L592.25,310 L597.5,314.5 L604,327 L590,327Z" fill="#41ab5d"/>
<path d="M687.3,320 L720,320 L720,360 L687.3,360Z" fill="#e5f5e0"/>
<path d="M605,318 L614.5,324.7 L622,318 L629.4,312.4 L632.6,310.7 L640,314 L636,314.8 L616,326.4 L605,328Z" fill="#41ab5d"/>
<path d="M330,230 L346,238 L359.5,233.5 L359.5,235.75 L358,243.6 L343.75,253.75 L337,257 L330,258Z" fill="#c7e9c0"/>
<path d="M320,257 L337,257 L343.75,253.75 L343.75,261.6 L332.5,273 L320,273Z" fill="url(#hatch)"/>
<path d="M359.5,233.5 L384,231 L385.4,244.75 L388.75,267.25 L372,278.5 L350.5,264 L343.75,261.6 L343.75,258 L343.75,253.75 L358,243.6 L359.5,235.75Z" fill="#e5f5e0"/>
<path d="M380,230 L390,230 L389,242 L385.4,244.75 L382,240Z" fill="#c7e9c0"/>
<path d="M385.4,244.75 L389,242 L420,240 L418,247 L419,276 L418,276 L395.5,268.4 L388.75,267.25Z" fill="url(#hatch)"/>
<path d="M418,240 L440,240 L440,249 L437,254 L441.5,262 L445.5,270.6 L419,270.6Z" fill="#e5f5e0"/>
<path d="M419,270.6 L445.5,270.6 L449.5,279 L450.5,282 L449.5,287.5 L445,294 L436,298.75 L425,300 L415.75,303 L414.6,296.5 L415.75,287.5 L418,276Z" fill="#c7e9c0"/>
<path d="M447,276 L449.5,279 L454,287 L458,293 L461,295.5 L455,293 L449.5,287.5 L450.5,282Z" fill="url(#hatch)"/>
<path d="M449.5,287.5 L455,291 L465,294 L467.5,297.6 L476,308 L470,315 L460,318 L448,318 L441,312 L436,298.75 L445,294Z" fill="#f7fcf5"/>
<path d="M465,294 L490,290 L480,330 L458.5,332.5 L459,324 L458.5,319 L460,318 L470,315 L476,308 L467.5,297.6Z" fill="url(#hatch)"/>
<path d="M415.75,303 L425,300 L436,298.75 L441,312 L441.5,315 L432,316 L425,312 L418,306Z" fill="#f7fcf5"/>
<path d="M441,312 L448,318 L458.5,319 L459,324 L458.5,332.5 L454,341.5 L442.75,332.5 L441.6,325.75 L441.5,315Z" fill="#41ab5d"/>
<path d="M432,316 L441.5,315 L441.6,325.75 L442.75,332.5 L433,332 L431,325Z" fill="#c7e9c0"/>
<path d="M433,332 L442.75,332.5 L454,340 L460,350 L456.7,358.5 L440,360 L432,355 L431,345Z" fill="#c7e9c0"/>
<path d="M320,273 L332.5,273 L343.75,261.6 L349.4,264 L350.5,287.5 L339,288.6 L325.75,287.5 L320,287Z" fill="#f7fcf5"/>
<path d="M320,287 L325.75,287.5 L335,288 L336,296 L320,297Z" fill="#a1d99b"/>
<path d="M320,297 L336,296 L342,298 L343,306 L338,310 L320,310Z" fill="#a1d99b"/>
<path d="M349.4,264 L350.5,264 L372,278.5 L369.6,287.5 L364,291 L355,290 L350.5,292 L342,298 L336,296 L335,288 L339,288.6 L350.5,287.5Z" fill="#f7fcf5"/>
<path d="M350.5,292 L355,290 L364,291 L369.6,287.5 L373,293 L369.6,294 L368,300 L365,302 L355,302 L350.5,300Z" fill="#a1d99b"/>
<path d="M338,310 L343,306 L342,298 L350.5,292 L350.5,300 L352,315 L338,316Z" fill="#e5f5e0"/>
<path d="M350.5,300 L355,302 L360,302 L361,316 L352,316Z" fill="#f7fcf5"/>
<path d="M360,302 L363,302 L363,316 L361,316Z" fill="#a1d99b"/>
<path d="M363,302 L368,300 L368,316 L363,316Z" fill="#e5f5e0"/>
<path d="M372,278.5 L388.75,267.25 L395.5,268.4 L397.75,292 L385,294 L373,293 L369.6,287.5Z" fill="#f7fcf5"/>
<path d="M368,300 L369.6,294 L373,293 L385,294 L397.75,292 L395.5,303 L386.5,310 L382,316.75 L368,316Z" fill="#f7fcf5"/>
<path d="M395.5,268.4 L418,276 L415.75,287.5 L414.6,296.5 L409,303 L400,305.5 L397.75,292Z" fill="#f7fcf5"/>
<path d="M386.5,310 L393,300 L397.75,292 L400,305.5 L397,320 L393,323 L384,323 L382,316.75Z" fill="#c7e9c0"/>
<path d="M397,305 L400,305.5 L409,303 L414.6,296.5 L415.75,303 L418,306 L425,312 L410,314 L397,317Z" fill="#e5f5e0"/>
<path d="M380,322.75 L394,323 L397,332 L393,339 L385,338 L380,330Z" fill="#41ab5d"/>
<path d="M394,323 L397,317 L410,314 L403,318 L403,330 L397,340 L391.7,343.3 L385,338 L393,339 L397,332Z" fill="#e5f5e0"/>
<path d="M397,340 L403,330 L403,318 L410,314 L425,312 L432,316 L431,325 L433,332 L431,345 L432,355 L425,358 L416,358 L412,344 L400,345 L391.7,343.3Z" fill="#f7fcf5"/>
<path d="M391.7,343.3 L400,345 L412,344 L416,358 L414,363 L413,375 L400,375 L389.5,374Z" fill="#f7fcf5"/>
<path d="M416,358 L425,358 L432,355 L436,362 L436,370 L422,372 L420,376 L413,375 L414,363Z" fill="#e5f5e0"/>
<path d="M432,355 L440,360 L442,372 L438,372 L436,370 L436,362Z" fill="#c7e9c0"/>
<path d="M440,360 L456.7,358.5 L460,370 L441.5,382.3 L443.7,391 L439.3,401.8 L432,396 L432,387 L437,380 L438,372 L442,372Z" fill="#e5f5e0"/>
<path d="M385,373.7 L400,375 L413,375 L410,378 L408,382.3 L406.8,401.8 L402.5,404 L385,400Z" fill="#a1d99b"/>
<path d="M408,382.3 L410,378 L413,375 L420,376 L426,385 L432,387 L430,395 L418,400 L407,398Z" fill="#c7e9c0"/>
<path d="M422,372 L436,370 L438,372 L437,380 L432,387 L426,385 L420,376Z" fill="#c7e9c0"/>
<path d="M402.5,404 L406.8,401.8 L407,398 L418,400 L430,395 L432,387 L432,396 L439.3,401.8 L440,420 L400,425Z" fill="#f7fcf5"/>
<path d="M432,396 L434.5,395 L435,398 L432.5,399Z" fill="#41ab5d"/>
<path d="M423,404 L427,402 L428,406 L424,407Z" fill="#a1d99b"/>
</g>
<g fill="none" stroke="#8a8a8a" stroke-width="0.4" stroke-opacity="0.6">
<path d="M44.2,187.7 L55.9,184 L64.4,176.5 L60.1,173.9 L61.2,170.7 L66.5,168.6 L75,165.4 L78.1,162.8 L70.7,162.8 L71.8,159.6 L82.9,159 L82.4,154.3 L95,150.6 L107.8,148.5 L118.4,150.6 L127.9,152.2 L144,151 L150,150.2 L159.4,152.1 L168.8,155 L178.2,155.9 L187.6,155.4 L197,154.5 L204.6,150.2 L210.2,148.4 L212.1,153 L214.4,155.9 L217.2,161.5 L224,166 L235,170 L245.5,172.7 L247,182.6 L250.5,189 L253.7,191.4 L250.5,195.6 L237.8,197.7 L229.3,199.8 L218.7,206.2 L223,205.5 L231.4,202 L233.5,206.2 L240,209.4 L229.3,214.7 L225,213 L214.5,218.9 L205,223.1 L198.6,227.4 L198.6,234.8 L193.3,240 L190.2,242 L183.6,246.6 L182.7,251.3 L184.1,258.9 L181.8,263.6 L178.9,257.9 L178,254.2 L176.1,251.3 L171.4,249.9 L165.8,250.4 L161,252.3 L155.4,251.8 L148.8,255.1 L145,258.9 L144.1,262.6 L142.7,269.2 L143.2,275 L146,278 L152,280 L156,276 L160,273.6 L166,274 L163,280 L162,283 L170,287 L173,290 L172,296 L170,300 L173,303 L178,305 L184,307 L188,304 L194,299 L199,297 L206,300 L214,301 L222,304 L224,308 L232,314 L244,319 L248,326 L258,332 L270,338 L282,343 L283,350 L280,356 L274,364 L274,380 L269,388 L258,393 L254,400 L248,412 L246,417 L240,419 L241,424 L240,425 L237.5,429 L231,431 L230,436 L227,437.5 L228,441 L226,445 L224,450 L228,453 L227.5,457.5 L226,462.5 L230,467.5 L237,471 L232.5,472.5 L224,470 L216,466 L211,459 L209,450 L207.5,442.5 L206,432.5 L204,426 L205,420 L204,404 L205,388 L203,376 L190,366 L182,352 L176,340 L175,342 L176,336 L178,330 L183,324 L184,316 L187,310 L185,310 L182,308 L178,308 L173,306 L171,307 L167,303 L162,298 L156,293 L149,288 L142,285 L130,282 L128,278 L123,270 L118,260 L114,252 L110,247 L112,256 L116,266 L116,269 L112,262 L108,256 L106,250 L106,244 L101,238 L99,232 L101,222 L106,214 L111,206 L115,201 L108.8,200 L110,193 L111,186.6 L114,184.5 L113,178.1 L108.8,176 L104.6,173.4 L99.3,172.8 L93,172.3 L87.6,171.8 L77,175 L68.6,178.1Z"/>
<path d="M378,131 L388,130 L400,130 L402,132 L395,133 L392,137 L386,136 L380,134Z"/>
<path d="M321,162 L326,160 L333,160 L339,162 L337,165 L329,166 L322,165Z"/>
<path d="M243,204 L250.5,195.6 L254.7,202 L254.7,207.2 L249.4,206.2Z"/>
<path d="M343.75,231.75 L343,227.25 L344.5,221.25 L343.75,216 L351.25,215.25 L359.9,216.4 L360.25,210 L359.5,204 L353.9,202.5 L359.5,201 L360.25,198.75 L366.25,196.5 L369.25,195 L372,192 L376,189.5 L379,188 L378.1,180 L381.25,180 L382.5,183.75 L386.25,185 L385.6,188.1 L391,187.5 L400,187 L405,182.5 L406,180 L406,175.5 L415,174.4 L408,173.5 L401.75,174 L401,170.5 L402.5,166.75 L407,161.5 L401,163 L400.25,164.5 L395,169 L397.25,175 L396.5,176.5 L393.5,182.5 L387.5,185.5 L385,182 L384,177 L377.5,178.75 L373,177.5 L372.5,170 L377.5,165 L385,157.5 L392.5,152.5 L398.75,150.6 L407.5,149.4 L413.75,150 L419.5,152.8 L431.2,156.5 L433.3,159.1 L428,161.8 L423.8,159.1 L421.6,158.6 L427,165 L431.2,161.8 L436.5,159.6 L437.5,154.9 L441.8,156.5 L443.9,158.1 L452.4,154.4 L463,152.2 L477.8,154.9 L473.5,148.5 L475.7,145.4 L481,146.4 L484.1,149 L487.3,156.5 L488.4,159.1 L489.4,156.5 L486.2,148 L488.4,148 L494.7,143.8 L500,140.6 L510,138.5 L521,136 L537,140.75 L555,143 L573,145 L586.5,145 L600,146 L625,150 L645,152.5 L657.5,150 L667.5,154 L677.5,162.5 L685,167.5 L678,170.7 L669.5,174.9 L673.7,179.2 L676.5,187.7 L675.1,195.4 L668,190.5 L663.8,186.2 L659.6,179.2 L661,173.5 L658.1,169.2 L648.2,171.4 L648.2,176.3 L638.3,174.9 L628.4,177.7 L624.2,186.2 L634,189.8 L642.6,194.7 L645.4,204.6 L644,213.1 L638.3,217.4 L637.6,218.8 L634,225.9 L641,228.7 L644,233 L644,238 L639,239.5 L636,236 L634,232 L631.2,230.1 L629.8,225.9 L627,224.5 L621.3,223 L615.7,227.3 L619,229 L625.5,231.5 L622.7,235.8 L627.75,242.75 L631.2,250 L633.5,256 L629,265 L620,269.5 L614,272.5 L609.5,274 L605,280 L608,286 L612.5,292 L613.25,298 L611,301 L604.25,306.25 L603.5,301 L600,300 L597.5,297 L592,297 L590,304 L592.25,310 L597.5,314.5 L602,323.5 L603.5,325.75 L600,325 L595.25,318.5 L591,313 L588.5,306 L588,299.5 L585.5,289 L580.9,287.3 L575,280.3 L572.7,274.5 L568.6,267.5 L563.4,271 L560,275.7 L551.7,285 L546.4,289.7 L545.8,300.2 L541.2,307.2 L533,293.2 L528.3,280.3 L527.2,274.5 L523.7,274.5 L519,271.6 L517.8,266.3 L516.75,263.4 L501,262.5 L494,260.5 L489,257.5 L484,256.5 L478.8,255.5 L470.1,250.2 L467,249.5 L471.2,254 L476.6,261 L479.9,266.4 L486.4,265.4 L488,260.5 L489.5,259 L492,262 L497.75,270.8 L492.9,278.4 L484.2,284.9 L477.7,289.2 L462.5,295.7 L461.4,293.5 L460.9,286 L457.1,280.5 L451.7,274 L447.3,267.5 L441.9,257.8 L440.3,252.3 L438,248 L438.5,240.5 L440,234.5 L441.8,234.1 L435,233 L427.3,233.5 L420.6,231.9 L420,226.3 L418.25,221.75 L416,225 L419,227 L416,230 L413,233 L410,228.5 L406.25,224 L402.5,219.5 L398,216.5 L393.5,210.5 L390.5,209.75 L392,213.5 L396.5,218 L402.5,222.5 L399.5,225.5 L401,228.5 L398,229.25 L395,221 L389,216.5 L384.5,212.75 L380,211.25 L377.5,214.5 L376,216 L371.5,216 L369.25,217.5 L363.25,225 L362.5,228.75 L357.25,232.5 L351.25,234.75 L349.75,232.5Z"/>
<path d="M352,178.5 L354.5,177.5 L357,177.75 L356.5,179.5 L359,180.5 L358,184 L360,185.5 L362.5,189 L364,191 L366,192.5 L365,195.5 L362,197 L357,197 L352,198.5 L355,195.5 L353.5,193.5 L355.5,191 L356.5,189 L354.5,187 L353,185.5 L352,183 L351.5,181Z"/>
<path d="M344,189.5 L348,186.5 L351.5,187 L351,189.5 L349,193 L343.5,194.5Z"/>
<path d="M390,229 L398,228.5 L397,232 L391,231Z"/>
<path d="M380,222 L384,222 L384,228 L380,227.5Z"/>
<path d="M381,216.8 L383.4,216.8 L383.4,221 L381,220.5Z"/>
<path d="M411,237 L418,236.5 L418,238 L411,238Z"/>
<path d="M433,237 L437.3,236.5 L437.3,238.6 L433,238.6Z"/>
<path d="M446,147.5 L449.2,140.6 L457.7,138 L467.2,137.4 L458.7,140.6 L453.4,143.8 L456.6,149.6 L450.2,149Z"/>
<path d="M494,130 L505,131 L517,133 L510,134 L496,132Z"/>
<path d="M575,138.5 L585,139 L598,141 L590,142 L577,141Z"/>
<path d="M638.3,187.7 L642,192 L650,200 L656.7,208.9 L653,207 L645,199 L639,192Z"/>
<path d="M659.5,221.1 L662.5,223 L665.5,227.5 L665.9,231.25 L667.75,235 L667,237.25 L662.5,238.75 L658.75,241 L653.5,241 L650.5,244 L652,247 L649.75,247.4 L646.75,242.5 L651.25,237.25 L657.25,235 L658,232 L661,230.5 L661.75,226.75 L659.5,223.75Z"/>
<path d="M655.75,211 L659.5,212.5 L664,213.25 L666.6,215.9 L664,218.9 L660.25,218.1 L659.9,220.4 L657.25,219.25 L656.1,216.25Z"/>
<path d="M346,238 L359.5,233.5 L370,233 L380,232.4 L384,231 L387,236 L386.5,242.5 L389,247 L400,249 L409,246 L413.5,249 L420,247 L429,246 L438,248 L437.5,250 L434.9,251.3 L439.2,257.8 L444.1,266.4 L447.3,276.2 L451.7,283.8 L456,291.4 L460.3,296.8 L467.5,297.6 L480,297.6 L476.5,305.5 L467.5,321 L458.5,332.5 L454,341.5 L453.4,343.3 L456.7,358.5 L454.5,369.3 L441.5,382.3 L443.7,391 L439.3,401.8 L426.3,414.9 L413.3,418 L404.7,419.2 L402.5,414.9 L401.4,404 L396,386.7 L389.5,373.7 L390.6,362.8 L391.7,343.3 L386.5,334.75 L384,325.75 L384,316.75 L377.5,314.5 L366,312 L355,314.5 L343.75,314.5 L337,310 L332.5,303 L325.75,296.5 L323.5,289.75 L324.6,278.5 L325.75,271.75 L330,260.5 L334.75,256 L341.5,249Z"/>
<path d="M614.2,418.3 L617.5,413.3 L616.7,398.3 L620,385.8 L626.7,383.3 L638.3,378.3 L643.3,372.5 L650,366.7 L655,365.8 L660,363.3 L666.7,358.3 L675.8,360.8 L673.3,366.7 L681.7,375 L686.7,368.3 L690,357.5 L694.2,366.7 L695.8,376.7 L700.8,385 L705.8,395 L703.3,406.7 L697.5,416.7 L690,425 L675,430 L666.7,428.3 L664.2,423.3 L661.7,416.7 L658.3,418.3 L655,411.7 L646.7,412.5 L638.3,413.3 L630,416.7 L621.7,417.5 L616.7,420Z"/>
<path d="M669.2,435.8 L676.7,435.8 L673.3,440.8 L668.3,442.5Z"/>
<path d="M739.3,418.7 L742,425.3 L746,428 L738,434.7 L732.7,437.3 L735.3,430.7 L738,425.3Z"/>
<path d="M730,436 L719.3,442.7 L707.3,449.3 L704.7,448 L716.7,440 L727.3,436Z"/>
<path d="M605.75,345 L627.75,349 L625,352 L608.5,347.75Z"/>
<path d="M628,350 L650,350 L652,353 L630,353Z"/>
<path d="M614.5,324.7 L622,318 L629.4,312.4 L632.6,310.7 L637.6,315.6 L634.3,319.8 L636,326.4 L629.4,334.6 L627.7,339.5 L619.5,337.9 L614.5,331.3Z"/>
<path d="M638.4,329.6 L640,327.2 L650.8,324.7 L651.6,326.4 L644.2,328.8 L641.5,331 L647.5,331.3 L642.5,333.8 L644.2,339.5 L646.6,343.6 L643.3,342.8 L640.9,338.7 L639.2,342.8 L637.6,337.9Z"/>
<path d="M664,329.6 L670.5,330.5 L673.8,333 L676,336 L683,335 L687,335.4 L694,339 L700,344.5 L705,350 L709.2,356.8 L703,355.5 L695,353.5 L688.6,352.7 L680.4,349.4 L677,345 L673,338 L672,335.4 L667.2,334.6Z"/>
<path d="M636.75,281 L641.25,280 L642.4,290 L645.75,296.75 L641.25,299 L639,292 L637.9,287.75Z"/>
</g>
<path d="M422.3,217.3 L426.2,209.5 L429.5,207.8 L433.4,210.1 L437.3,211.75 L441.25,209 L444,208.4 L448.5,214 L449.6,219.6 L444,220.9 L435,220.1 L426.2,220.9Z" fill="#fff" stroke="#8a8a8a" stroke-width="0.4" stroke-opacity="0.6"/>
<path d="M461,211.5 L464.5,208 L471,207 L471,212 L474,218 L477,224 L478,229 L474,231.5 L469,229.5 L468,224 L466,219 L462,215Z" fill="#fff" stroke="#8a8a8a" stroke-width="0.4" stroke-opacity="0.6"/>
<path d="M215,164 L225,163 L235,166 L246,170 L247,174 L241,176 L235.6,177.6 L230,173 L222.5,169.4 L218,168Z" fill="#fff" stroke="#8a8a8a" stroke-width="0.4" stroke-opacity="0.6"/>
<path d="M193,181 L189,178 L188,175 L191,171 L195,168 L199.4,166 L206,164 L212.6,163.6 L217,165 L219,167.8 L218,171 L216,174 L212,178 L209,182.6 L208.5,189 L206,193 L204,195 L202.7,191 L202.7,189 L201,185 L199.4,182.6 L196,181.5Z" fill="#fff" stroke="#8a8a8a" stroke-width="0.4" stroke-opacity="0.6"/>
<path d="M171.4,270 L176,268.5 L182,269 L188,271.5 L193,273 L200,275 L206,277 L199,277.5 L191,276 L184,273.5 L177,272Z" fill="url(#hatch)" stroke="#c4c4c4" stroke-width="0.45"/>
<path d="M194,277.5 L197,277 L200,277 L200,281.5 L197,281 L194,280.5Z" fill="url(#hatch)" stroke="#c4c4c4" stroke-width="0.45"/>
<path d="M185,280.5 L188,280.4 L189.6,281.5 L187,282.5 L185,282Z" fill="#74c476" stroke="#8a8a8a" stroke-width="0.4" stroke-opacity="0.6"/>
<path d="M210,280.6 L214,280.6 L214,282.3 L210,282.3Z" fill="url(#hatch)" stroke="#c4c4c4" stroke-width="0.45"/>
<path d="M220.8,300.6 L223.75,300.4 L223.5,303 L221,303Z" fill="#41ab5d" stroke="#8a8a8a" stroke-width="0.4" stroke-opacity="0.6"/>
<path d="M608.75,277 L614.75,277 L614.75,281.5 L609.5,281.5Z" fill="#74c476" stroke="#8a8a8a" stroke-width="0.4" stroke-opacity="0.6"/>
<path d="M633.4,263 L636.75,263 L636.75,272 L633.4,270Z" fill="url(#hatch)" stroke="#c4c4c4" stroke-width="0.45"/>
<path d="M547,303.1 L549,304 L551.7,309 L550.5,313.6 L547.5,313 L545.8,308Z" fill="#c7e9c0" stroke="#8a8a8a" stroke-width="0.4" stroke-opacity="0.6"/>
<path d="M476.2,361.8 L478.35,369.3 L471.8,388.8 L465.3,395.3 L461,391 L463.2,375.8 L469.7,369.3Z" fill="#e5f5e0" stroke="#8a8a8a" stroke-width="0.4" stroke-opacity="0.6"/>
<path d="M704,340 L712,337 L716,336 L713,341 L706,343Z" fill="#e5f5e0" stroke="#8a8a8a" stroke-width="0.4" stroke-opacity="0.6"/>
<path d="M718,342 L724,346 L730,351 L736,357 L734,358 L727,353 L720,347Z" fill="#e5f5e0" stroke="#8a8a8a" stroke-width="0.4" stroke-opacity="0.6"/>
<path d="M743,367 L745,367 L746,373 L744,373Z" fill="#e5f5e0" stroke="#8a8a8a" stroke-width="0.4" stroke-opacity="0.6"/>
<path d="M734,381 L736,381 L740,387 L738,388Z" fill="url(#hatch)" stroke="#c4c4c4" stroke-width="0.45"/>
<path d="M9,276.5 L11.5,276 L12,278 L9.5,279.7Z" fill="#006d2c" stroke="#8a8a8a" stroke-width="0.4" stroke-opacity="0.6"/>
<path d="M5,272.3 L9.5,273.8 L9.5,275 L5,273.5Z" fill="#006d2c" stroke="#8a8a8a" stroke-width="0.4" stroke-opacity="0.6"/>
<path d="M2,270.8 L3.8,271 L3.8,272 L2,271.9Z" fill="#006d2c" stroke="#8a8a8a" stroke-width="0.4" stroke-opacity="0.6"/>
<path d="M766,375.5 L769,373.5 L774,371 L773,373.5 L768,377Z" fill="#a1d99b" stroke="#8a8a8a" stroke-width="0.4" stroke-opacity="0.6"/>
<path d="M643.5,299.5 L648,299 L651.4,303 L649,305.75 L644,304Z" fill="#e5f5e0" stroke="#8a8a8a" stroke-width="0.4" stroke-opacity="0.6"/>
<path d="M645,306.5 L652,305.75 L654.75,310 L653,314.75 L648,313 L644.6,310Z" fill="#e5f5e0" stroke="#8a8a8a" stroke-width="0.4" stroke-opacity="0.6"/>
<path d="M636.75,299 L637.5,300 L632,308 L631,307.5Z" fill="#e5f5e0" stroke="#8a8a8a" stroke-width="0.4" stroke-opacity="0.6"/>
<path d="M186,262 L188,261.5 L188.5,264 L186.5,264Z" fill="url(#hatch)" stroke="#c4c4c4" stroke-width="0.45"/>
<path d="M187,266 L189,266 L189,268 L187,268Z" fill="url(#hatch)" stroke="#c4c4c4" stroke-width="0.45"/>
<path d="M582.4,314.75 L592,317.5 L603,328.5 L607,341 L604.4,345 L594.75,336.75 L585,323Z" fill="#c7e9c0" stroke="#8a8a8a" stroke-width="0.4" stroke-opacity="0.6"/>
<path d="M47.4,162.8 L60.1,153.8 L62.8,157 L67.5,158.5 L68.1,160.7 L61.2,161.2 L57,163.8 L51.6,160.7Z" fill="#238b45" stroke="#8a8a8a" stroke-width="0.4" stroke-opacity="0.6"/>
<path d="M159.4,147.4 L166.9,142.7 L178.2,143.2 L187.6,145.5 L193.3,144.6 L196.1,150.2 L191.4,152.1 L182.9,153 L173.5,153 L168.8,150.2 L164.1,148.8Z" fill="#00441b" stroke="#8a8a8a" stroke-width="0.4" stroke-opacity="0.6"/>
<path d="M175.4,137.6 L183,136.3 L189.5,135.6 L186,137.8 L178,138.6Z" fill="#00441b" stroke="#8a8a8a" stroke-width="0.4" stroke-opacity="0.6"/>
<path d="M181,139.5 L190,139 L200.8,140.2 L196,141.2 L184,141Z" fill="#00441b" stroke="#8a8a8a" stroke-width="0.4" stroke-opacity="0.6"/>
<path d="M194.2,133.8 L201.8,133.3 L200,135.2 L195,135Z" fill="#00441b" stroke="#8a8a8a" stroke-width="0.4" stroke-opacity="0.6"/>
<path d="M205.5,138.5 L214,138 L212,140.8 L206,140.5Z" fill="#00441b" stroke="#8a8a8a" stroke-width="0.4" stroke-opacity="0.6"/>
<path d="M208.3,132.8 L215.9,132.3 L214,135.2 L209,134.8Z" fill="#00441b" stroke="#8a8a8a" stroke-width="0.4" stroke-opacity="0.6"/>
<path d="M199,144.2 L206.5,143.6 L205,147.4 L200,146.8Z" fill="#00441b" stroke="#8a8a8a" stroke-width="0.4" stroke-opacity="0.6"/>
<path d="M205,143 L216.3,143.6 L217.2,150.2 L212,151 L206,148Z" fill="#00441b" stroke="#8a8a8a" stroke-width="0.4" stroke-opacity="0.6"/>
<path d="M224.8,131.4 L236,128.6 L250.2,126.7 L277.5,126.7 L266.2,129.5 L254,133.3 L244.5,137 L233.2,137.5 L226.6,134.2Z" fill="#00441b" stroke="#8a8a8a" stroke-width="0.4" stroke-opacity="0.6"/>
<path d="M217.2,137.5 L228,136.8 L238.9,138.5 L236,141.8 L222,141.5Z" fill="#00441b" stroke="#8a8a8a" stroke-width="0.4" stroke-opacity="0.6"/>
<path d="M205,163 L213,161 L216,164 L208,166Z" fill="#00441b" stroke="#8a8a8a" stroke-width="0.4" stroke-opacity="0.6"/>
<path d="M217.2,145.5 L228.5,143.6 L240.8,145.5 L247.3,151.2 L250.2,153 L255.8,157.8 L252,160.6 L246.4,157.8 L247.3,162.5 L243.6,167.2 L237.9,164.3 L235.1,159.6 L233.2,154.9 L228.5,153 L223.8,151.2 L217.2,150.2Z" fill="#00441b" stroke="#8a8a8a" stroke-width="0.4" stroke-opacity="0.6"/>
<path d="M200,277 L204,277 L207.5,279 L206,281.5 L200,281.5Z" fill="#f7fcf5" stroke="#8a8a8a" stroke-width="0.4" stroke-opacity="0.6"/>
<path d="M219.4,282.9 L220.6,282.9 L220.6,284.1 L219.4,284.1Z" fill="url(#hatch)" stroke="#c4c4c4" stroke-width="0.45"/>
<path d="M221.9,287.4 L223.1,287.4 L223.1,288.6 L221.9,288.6Z" fill="url(#hatch)" stroke="#c4c4c4" stroke-width="0.45"/>
<path d="M222.4,291.9 L223.6,291.9 L223.6,293.1 L222.4,293.1Z" fill="url(#hatch)" stroke="#c4c4c4" stroke-width="0.45"/>
<path d="M220.9,296.4 L222.1,296.4 L222.1,297.6 L220.9,297.6Z" fill="url(#hatch)" stroke="#c4c4c4" stroke-width="0.45"/>
<path d="M225.4,293.4 L226.6,293.4 L226.6,294.6 L225.4,294.6Z" fill="url(#hatch)" stroke="#c4c4c4" stroke-width="0.45"/>
<path d="M102.8,188.5 L105,189 L107.4,193.5 L106,194 L103,191Z" fill="#00441b" stroke="#8a8a8a" stroke-width="0.4" stroke-opacity="0.6"/>
<g id="legend">
<rect x="127.5" y="537.5" width="48" height="10.5" fill="url(#hatch)" stroke="#aaa" stroke-width="0.6"/>
<line x1="151.5" y1="533" x2="151.5" y2="537.5" stroke="#888" stroke-width="0.8"/>
<path d="M195,542.5 L201,537 L253,537 L253,548 L201,548Z" fill="#f7fcf5" stroke="#aaa" stroke-width="0.6"/>
<rect x="253" y="537" width="59" height="11" fill="#e5f5e0" stroke="#aaa" stroke-width="0.6"/>
<rect x="312" y="537" width="58" height="11" fill="#c7e9c0" stroke="#aaa" stroke-width="0.6"/>
<rect x="370" y="537" width="59" height="11" fill="#a1d99b" stroke="#aaa" stroke-width="0.6"/>
<rect x="429" y="537" width="59" height="11" fill="#74c476" stroke="#aaa" stroke-width="0.6"/>
<rect x="488" y="537" width="59" height="11" fill="#41ab5d" stroke="#aaa" stroke-width="0.6"/>
<rect x="547" y="537" width="59" height="11" fill="#238b45" stroke="#aaa" stroke-width="0.6"/>
<rect x="606" y="537" width="58" height="11" fill="#006d2c" stroke="#aaa" stroke-width="0.6"/>
<path d="M664,537 L714,537 L720,542.5 L714,548 L664,548Z" fill="#00441b" stroke="#aaa" stroke-width="0.6"/>
<g font-family="Liberation Sans" font-size="13" fill="#5b5b5b" text-anchor="middle">
<text x="151.5" y="530">No data</text>
<text x="253" y="530">350</text><text x="312" y="530">375</text><text x="370" y="530">400</text><text x="429" y="530">425</text>
<text x="488" y="530">450</text><text x="547" y="530">475</text><text x="606" y="530">500</text><text x="664" y="530">525</text>
</g>
<g stroke="#999" stroke-width="0.9">
<line x1="253" y1="534" x2="253" y2="548"/><line x1="312" y1="534" x2="312" y2="548"/><line x1="370" y1="534" x2="370" y2="548"/><line x1="429" y1="534" x2="429" y2="548"/>
<line x1="488" y1="534" x2="488" y2="548"/><line x1="547" y1="534" x2="547" y2="548"/><line x1="606" y1="534" x2="606" y2="548"/><line x1="664" y1="534" x2="664" y2="548"/>
</g>
</g>
</svg>
<div id="foot1" class="t"><b style="letter-spacing:-0.4px">Data source:</b> World Bank (2024)</div>
<div id="foot2" class="t">OurWorldinData.org/global-education | CC BY</div>
</body></html>
